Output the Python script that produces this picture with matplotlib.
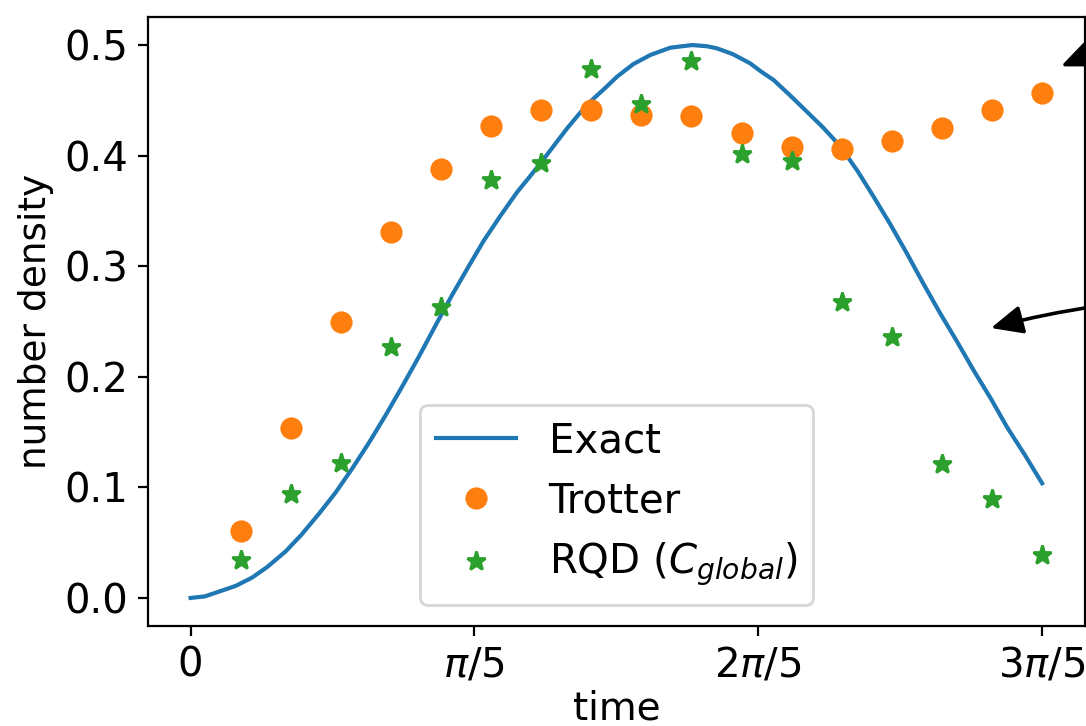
import numpy as np
import matplotlib
matplotlib.use("Agg")
import matplotlib.pyplot as plt

# ---- data ----
# exact curve: time in units of pi/5, number density
exact_t_units = [0.0, 0.05, 0.0996, 0.16, 0.2173, 0.27, 0.3345, 0.39, 0.4518,
                 0.51, 0.5694, 0.63, 0.6866, 0.745, 0.8039, 0.86, 0.9215, 0.98,
                 1.0327, 1.09, 1.1504, 1.195, 1.2384, 1.28, 1.3264, 1.37, 1.4144,
                 1.46, 1.5025, 1.56, 1.6197, 1.69, 1.7676, 1.82, 1.8546, 1.91,
                 1.9718, 2.01, 2.0539, 2.11, 2.1715, 2.23, 2.2887, 2.35, 2.4060,
                 2.465, 2.5236, 2.58, 2.6408, 2.70, 2.7581, 2.82, 2.8757, 2.94,
                 3.0]
exact_vals = [0.0, 0.0014, 0.0057, 0.011, 0.0185, 0.028, 0.042, 0.057, 0.076,
              0.095, 0.117, 0.141, 0.165, 0.191, 0.218, 0.245, 0.274, 0.300,
              0.323, 0.345, 0.367, 0.381, 0.395, 0.409, 0.4246, 0.438, 0.4503,
              0.461, 0.4714, 0.4828, 0.4910, 0.4976, 0.5000, 0.4989, 0.4970, 0.4918,
              0.4834, 0.476, 0.4684, 0.455, 0.4397, 0.425, 0.4085, 0.386, 0.3630,
              0.338, 0.3116, 0.285, 0.2574, 0.232, 0.2061, 0.180, 0.1548, 0.129,
              0.1037]

step_times = [0.1109, 0.2218, 0.3326, 0.4435, 0.5544, 0.6653, 0.7762, 0.8870,
              0.9979, 1.1088, 1.2197, 1.3306, 1.4414, 1.5523, 1.6632, 1.7741,
              1.8850]
trotter_vals = [0.0606, 0.1540, 0.2498, 0.3307, 0.3879, 0.4268, 0.4410, 0.4412,
                0.4364, 0.4358, 0.4202, 0.4081, 0.4062, 0.4129, 0.4252, 0.4410,
                0.4566]
rqd_vals = [0.0344, 0.0940, 0.1223, 0.2272, 0.2634, 0.3782, 0.3930, 0.4785,
            0.4467, 0.4858, 0.4012, 0.3951, 0.2674, 0.2357, 0.1209, 0.0898,
            0.0386]

xtick_pos_units = [0, 1, 2, 3]
xtick_labels = ["0", r"$\pi/5$", r"$2\pi/5$", r"$3\pi/5$"]

# ---- figure ----
W, H, DPI = 1086, 726, 200
fig = plt.figure(figsize=(W / DPI, H / DPI), dpi=DPI)
ax = fig.add_axes([148 / W, 1 - 625.6 / H, (1084.7 - 148) / W, (625.6 - 17.4) / H])

exact_t = np.array(exact_t_units) * np.pi / 5
ax.plot(exact_t, exact_vals, color="C0", lw=1.5, label="Exact")
ax.plot(step_times, trotter_vals, "o", color="C1", ms=7, ls="none", label="Trotter")
ax.plot(step_times, rqd_vals, "*", color="C2", ms=7, ls="none",
        label=r"RQD ($C_{global}$)")

ax.set_xticks(np.array(xtick_pos_units) * np.pi / 5)
ax.set_xticklabels(xtick_labels)
ax.tick_params(labelsize=14.5)
ax.set_xlabel("time", fontsize=14, labelpad=1.5)
ax.set_ylabel("number density", fontsize=13.5)
ax.legend(loc="lower center", fontsize=14.5)

# arrows coming from outside the (cropped) figure
fig_ann_kw = dict(xycoords="figure pixels", textcoords="figure pixels",
                  annotation_clip=False)
ax.annotate("", xy=(1090, H - 36), xytext=(1090, H - 420),
            arrowprops=dict(arrowstyle="-|>,head_length=0.39,head_width=0.375",
                            color="black", lw=1.3, mutation_scale=24,
                            shrinkA=0, shrinkB=0),
            **fig_ann_kw)
ax.annotate("", xy=(991, H - 328), xytext=(1200, H - 298),
            arrowprops=dict(arrowstyle="-|>,head_length=0.4,head_width=0.18",
                            color="black", lw=1.3, mutation_scale=24,
                            connectionstyle="arc3,rad=0.06",
                            shrinkA=0, shrinkB=0),
            **fig_ann_kw)

fig.savefig("out.png", dpi=DPI)
